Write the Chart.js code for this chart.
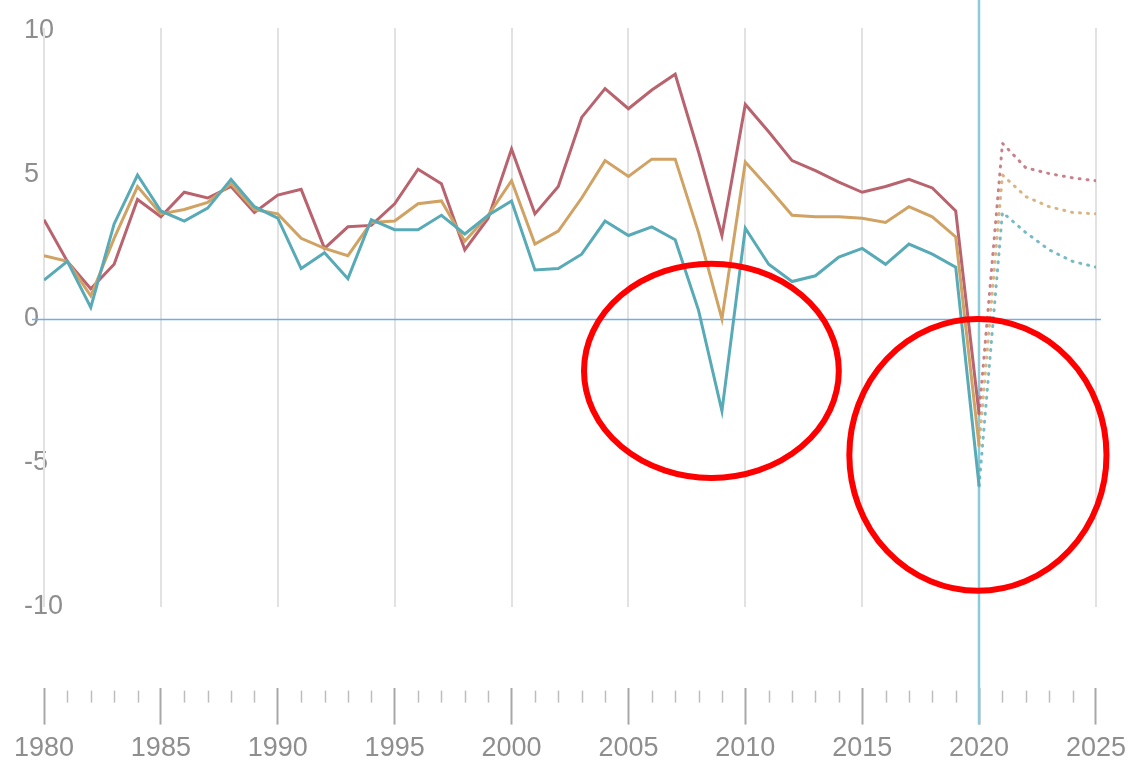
<!DOCTYPE html>
<html>
<head>
<meta charset="utf-8">
<script src="https://cdn.jsdelivr.net/npm/chart.js@4.4.0/dist/chart.umd.min.js"></script>
<style>
  html, body { margin: 0; padding: 0; background: #fff; }
  #wrap { width: 1134px; height: 778px; position: relative; }
</style>
</head>
<body>
<div id="wrap"><canvas id="growthChart"></canvas></div>
<script>
// real GDP growth, % (historical 1980-2020)
var years = [1980, 1981, 1982, 1983, 1984, 1985, 1986, 1987, 1988, 1989,
             1990, 1991, 1992, 1993, 1994, 1995, 1996, 1997, 1998, 1999,
             2000, 2001, 2002, 2003, 2004, 2005, 2006, 2007, 2008, 2009,
             2010, 2011, 2012, 2013, 2014, 2015, 2016, 2017, 2018, 2019, 2020];
var emerging = [3.45, 2.0, 1.05, 1.9, 4.15, 3.55, 4.4, 4.2, 4.6, 3.7,
                4.3, 4.5, 2.45, 3.2, 3.25, 4.0, 5.2, 4.7, 2.4, 3.5,
                5.9, 3.65, 4.6, 7.0, 8.0, 7.3, 7.95, 8.5, 5.8, 2.9,
                7.45, 6.5, 5.5, 5.15, 4.75, 4.4, 4.6, 4.85, 4.55, 3.75, -3.3];
var world = [2.2, 2.0, 0.8, 2.8, 4.6, 3.65, 3.8, 4.05, 4.7, 3.8,
             3.65, 2.8, 2.45, 2.2, 3.35, 3.4, 4.0, 4.1, 2.7, 3.6,
             4.8, 2.6, 3.05, 4.2, 5.5, 4.95, 5.55, 5.55, 3.0, 0.0,
             5.45, 4.55, 3.6, 3.55, 3.55, 3.5, 3.35, 3.9, 3.55, 2.85, -4.4];
var advanced = [1.35, 2.0, 0.4, 3.3, 5.0, 3.75, 3.4, 3.85, 4.85, 3.9,
                3.5, 1.75, 2.3, 1.4, 3.45, 3.1, 3.1, 3.6, 2.95, 3.6,
                4.1, 1.7, 1.75, 2.25, 3.4, 2.9, 3.2, 2.75, 0.3, -3.2,
                3.15, 1.9, 1.3, 1.5, 2.15, 2.45, 1.9, 2.6, 2.25, 1.8, -5.8];

// projections
var forecastYears = [2020, 2021, 2022, 2023, 2024, 2025];
var emergingF = [-3.3, 6.1, 5.25, 5.05, 4.9, 4.8];
var worldF = [-4.4, 5.0, 4.25, 3.9, 3.7, 3.65];
var advancedF = [-5.8, 3.7, 3.0, 2.4, 2.0, 1.8];

var gridYears = [1980, 1985, 1990, 1995, 2000, 2005, 2010, 2015, 2025];
var yTicks = [10, 5, 0, -5, -10];
var markerYear = 2020;

// hand-drawn circles: centre (year, value), radii in years / points
var circles = [
  { x: 2008.55, y: -1.8, rx: 5.45, ry: 3.72 },
  { x: 2019.95, y: -4.72, rx: 5.5, ry: 4.72 }
];

var RED = '#b9636f', ORANGE = '#d0a263', TEAL = '#58aab7';

function pts(xs, ys) {
  return xs.map(function (x, i) { return { x: x, y: ys[i] }; });
}

var decorations = {
  id: 'decorations',
  beforeDatasetsDraw: function (chart) {
    var ctx = chart.ctx, xs = chart.scales.x, ys = chart.scales.y;
    var top = ys.getPixelForValue(10.1), bottom = ys.getPixelForValue(-10);
    ctx.save();
    ctx.strokeStyle = '#e2e2e2';
    ctx.lineWidth = 2;
    gridYears.forEach(function (yr) {
      var px = Math.round(xs.getPixelForValue(yr));
      ctx.beginPath(); ctx.moveTo(px, top); ctx.lineTo(px, bottom); ctx.stroke();
    });
    // minor ticks under the axis
    var base = chart.chartArea.bottom;
    ctx.strokeStyle = '#bdbdbd';
    ctx.lineWidth = 1.5;
    for (var yr = 1980; yr <= 2025; yr++) {
      if (yr % 5 === 0) continue;
      var mx = Math.round(xs.getPixelForValue(yr)) + 0.5;
      ctx.beginPath(); ctx.moveTo(mx, base + 3); ctx.lineTo(mx, base + 15); ctx.stroke();
    }
    // zero line
    var zy = Math.round(ys.getPixelForValue(0)) + 0.5;
    ctx.strokeStyle = '#72aee6';
    ctx.lineWidth = 1.5;
    ctx.beginPath();
    ctx.moveTo(chart.chartArea.left - 12, zy);
    ctx.lineTo(chart.chartArea.right + 5, zy);
    ctx.stroke();
    // 2020 marker
    var mxp = Math.round(xs.getPixelForValue(markerYear));
    ctx.strokeStyle = '#8ccbd7';
    ctx.lineWidth = 2.5;
    ctx.beginPath(); ctx.moveTo(mxp, 0); ctx.lineTo(mxp, base + 37); ctx.stroke();
    ctx.restore();
  },
  afterDatasetsDraw: function (chart) {
    var ctx = chart.ctx, xs = chart.scales.x, ys = chart.scales.y;
    ctx.save();
    ctx.strokeStyle = '#ff0000';
    ctx.lineWidth = 6;
    circles.forEach(function (c) {
      var cx = xs.getPixelForValue(c.x), cy = ys.getPixelForValue(c.y);
      var rx = xs.getPixelForValue(c.x + c.rx) - cx;
      var ry = ys.getPixelForValue(c.y - c.ry) - cy;
      ctx.beginPath();
      ctx.ellipse(cx, cy, rx, ry, 0, 0, Math.PI * 2);
      ctx.stroke();
    });
    ctx.restore();
  }
};

var font = { family: "'Liberation Sans', sans-serif", size: 27 };

function solid(data, color) {
  return { data: data, borderColor: color, borderWidth: 3, pointRadius: 0, tension: 0, fill: false };
}
function dotted(data, color) {
  return { data: data, borderColor: color, borderWidth: 3, borderDash: [1, 7], borderCapStyle: 'round',
           pointRadius: 0, tension: 0, fill: false };
}

new Chart(document.getElementById('growthChart').getContext('2d'), {
  type: 'line',
  data: {
    datasets: [
      dotted(pts(forecastYears, advancedF), 'rgba(88,170,183,0.8)'),
      dotted(pts(forecastYears, worldF), 'rgba(208,162,99,0.8)'),
      dotted(pts(forecastYears, emergingF), 'rgba(185,99,111,0.8)'),
      solid(pts(years, advanced), TEAL),
      solid(pts(years, world), ORANGE),
      solid(pts(years, emerging), RED)
    ]
  },
  options: {
    responsive: true,
    maintainAspectRatio: false,
    animation: false,
    layout: { padding: { left: 24, right: 36, top: 31, bottom: 5 } },
    plugins: { legend: { display: false }, tooltip: { enabled: false } },
    scales: {
      x: {
        type: 'linear',
        min: 1980,
        max: 2025,
        border: { display: false },
        grid: {
          drawOnChartArea: false,
          drawTicks: true,
          tickLength: 37,
          tickWidth: 2,
          tickColor: function (c) { return c.tick && c.tick.value % 5 === 0 ? '#a8a8a8' : 'rgba(0,0,0,0)'; }
        },
        ticks: {
          stepSize: 1,
          autoSkip: false,
          maxRotation: 0,
          padding: 8,
          color: '#8e8e8e',
          font: font,
          callback: function (v) { return v % 5 === 0 ? String(v) : ''; }
        }
      },
      y: {
        min: -12.8,
        max: 10,
        border: { display: false },
        grid: { display: false, drawTicks: false },
        afterFit: function (s) { s.width = 20; },
        afterBuildTicks: function (s) { s.ticks = yTicks.map(function (v) { return { value: v }; }); },
        ticks: {
          mirror: true,
          padding: -20,
          color: '#8e8e8e',
          font: font
        }
      }
    }
  },
  plugins: [decorations]
});
</script>
</body>
</html>
